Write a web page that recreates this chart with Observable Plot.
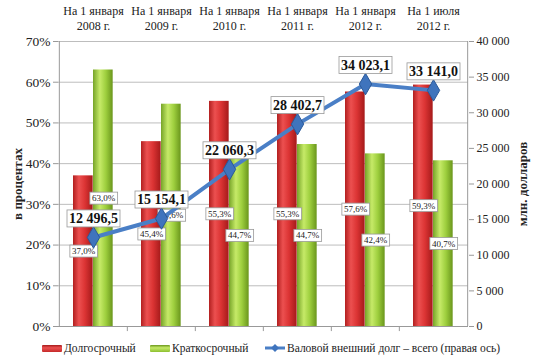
<!DOCTYPE html>
<html><head><meta charset="utf-8">
<script src="https://cdn.jsdelivr.net/npm/d3@7"></script>
<script src="https://cdn.jsdelivr.net/npm/@observablehq/plot@0.6"></script>
<style>
body{margin:0;background:#fff;font-family:"Liberation Serif",serif;}
#wrap{position:relative;width:535px;height:364px;}
#legend{position:absolute;left:0;top:338px;width:535px;height:24px;font-size:11.5px;color:#222;}
#legend .it{position:absolute;top:4px;display:flex;align-items:center;white-space:nowrap;}
.sw{display:inline-block;width:20px;height:7px;margin-right:2px;border-radius:1px;}
svg text{font-family:"Liberation Serif",serif;}
</style></head><body>
<div id="wrap"><div id="chart"></div><div id="legend"></div></div>
<script>
const categories = ["На 1 января\n2008 г.","На 1 января\n2009 г.","На 1 января\n2010 г.","На 1 января\n2011 г.","На 1 января\n2012 г.","На 1 июля\n2012 г."];
const longTerm = [37.0, 45.4, 55.3, 55.3, 57.6, 59.3];
const shortTerm = [63.0, 54.6, 44.7, 44.7, 42.4, 40.7];
const grossDebt = [12496.5, 15154.1, 22060.3, 28402.7, 34023.1, 33141.0];
const leftTicks = [0, 10, 20, 30, 40, 50, 60, 70];
const rightTicks = [0, 5000, 10000, 15000, 20000, 25000, 30000, 35000, 40000];
const seriesNames = ["Долгосрочный", "Краткосрочный", "Валовой внешний долг – всего (правая ось)"];

const LEFT_MAX = 70, RIGHT_MAX = 40000;
const toLeft = v => v * LEFT_MAX / RIGHT_MAX;
const loc = d3.formatLocale({decimal: ",", thousands: " ", grouping: [3], currency: ["", ""]});
const fmtDebt = loc.format(",.1f");
const fmtInt = loc.format(",d");
const fmtPct = loc.format(".1f");

const rows = categories.map((c, i) => ({cat: c, long: longTerm[i], short: shortTerm[i], debt: grossDebt[i]}));

const FONT = '"Liberation Serif", serif';
const W = 535, H = 338, mL = 58, mR = 67, mT = 41, mB = 12;
const bw = (W - mL - mR) / categories.length;

const chart = Plot.plot({
  width: W, height: H,
  marginLeft: mL, marginRight: mR, marginTop: mT, marginBottom: mB,
  style: {fontFamily: FONT, fontSize: "12px", color: "#222", background: "#fff"},
  x: {domain: categories, padding: 0, axis: null},
  y: {domain: [0, LEFT_MAX], axis: null},
  marks: [
    Plot.gridY(leftTicks, {stroke: "#bdbdbd", strokeOpacity: 1}),
    Plot.axisX({anchor: "top", tickSize: 0, tickPadding: 12, fontSize: 12, lineHeight: 1.2, label: null}),
    Plot.axisY(leftTicks, {anchor: "left", tickSize: 5, tickPadding: 3, tickFormat: d => d + "%", stroke: "#999", fontSize: 13.5,
      label: "в процентах", labelAnchor: "center", labelOffset: 46, labelArrow: false}),
    Plot.axisY(rightTicks.map(toLeft), {anchor: "right", tickSize: 5, tickPadding: 3, tickFormat: d => fmtInt(Math.round(d * RIGHT_MAX / LEFT_MAX)), stroke: "#999", fontSize: 12,
      label: "млн. долларов", labelAnchor: "center", labelOffset: 58, labelArrow: false}),
    Plot.ruleX([categories[0]], {dx: -bw / 2, stroke: "#999"}),
    Plot.ruleX([categories[categories.length - 1]], {dx: bw / 2, stroke: "#999"}),
    Plot.ruleX(categories.slice(1), {dx: -bw / 2, y1: 0, y2: -1.25, stroke: "#999"}),
    Plot.ruleY([0], {stroke: "#999"}),
    Plot.barY(rows, {x: "cat", y: "long", fill: "url(#gradRed)", insetLeft: 14, insetRight: bw - 34}),
    Plot.barY(rows, {x: "cat", y: "short", fill: "url(#gradGreen)", insetLeft: 34, insetRight: bw - 54}),
    Plot.text(rows, {x: "cat", y: d => d.long / 2, text: d => fmtPct(d.long) + "%", dx: -10, fontSize: 9, fill: "#222"}),
    Plot.text(rows, {x: "cat", y: d => d.short / 2, text: d => fmtPct(d.short) + "%", dx: 10, fontSize: 9, fill: "#222"}),
    Plot.line(rows, {x: "cat", y: d => toLeft(d.debt), stroke: "#4a7fc6", strokeWidth: 4}),
    Plot.dot(rows, {x: "cat", y: d => toLeft(d.debt), symbol: "diamond", r: 6.5, fill: "#3f74bd", stroke: "#2b5a9a", strokeWidth: 1}),
    Plot.text(rows, {x: "cat", y: d => toLeft(d.debt), text: d => fmtDebt(d.debt), dy: -19, fontSize: 14, fontWeight: "bold", fill: "#111"})
  ]
});

document.getElementById("chart").appendChild(chart);

const ns = "http://www.w3.org/2000/svg";
const defs = document.createElementNS(ns, "defs");
function grad(id, stops) {
  const g = document.createElementNS(ns, "linearGradient");
  g.setAttribute("id", id);
  g.setAttribute("x1", "0"); g.setAttribute("y1", "0");
  g.setAttribute("x2", "1"); g.setAttribute("y2", "0");
  stops.forEach(([o, c]) => {
    const s = document.createElementNS(ns, "stop");
    s.setAttribute("offset", o); s.setAttribute("stop-color", c);
    g.appendChild(s);
  });
  defs.appendChild(g);
}
grad("gradRed", [["0", "#b21f1f"], ["0.3", "#ec5050"], ["0.6", "#dc3434"], ["1", "#a51a1a"]]);
grad("gradGreen", [["0", "#76a428"], ["0.35", "#c6ea68"], ["0.65", "#9ecf3e"], ["1", "#6a961c"]]);
chart.insertBefore(defs, chart.firstChild);

chart.querySelectorAll('g[aria-label="y-axis label"] text').forEach(t => {
  t.setAttribute("font-weight", "bold"); t.setAttribute("font-size", "13");
});

chart.querySelectorAll('g[aria-label="text"]').forEach(g => {
  g.querySelectorAll("text").forEach(t => {
    const b = t.getBBox();
    const tr = t.getAttribute("transform");
    const r = document.createElementNS(ns, "rect");
    const p = 2;
    r.setAttribute("x", b.x - p); r.setAttribute("y", b.y - p + 1);
    r.setAttribute("width", b.width + 2 * p); r.setAttribute("height", b.height + 2 * p - 2);
    r.setAttribute("fill", "#fff"); r.setAttribute("stroke", "#999"); r.setAttribute("stroke-width", "0.8");
    if (tr) r.setAttribute("transform", tr);
    t.parentNode.insertBefore(r, t);
  });
});

const legend = document.getElementById("legend");
const items = [
  {left: 42, html: '<span class="sw" style="background:linear-gradient(#a51a1a,#ec5050 40%,#c42a2a)"></span>' + seriesNames[0]},
  {left: 150, html: '<span class="sw" style="background:linear-gradient(#6a961c,#c6ea68 40%,#8cbf30)"></span>' + seriesNames[1]},
  {left: 265, html: '<svg width="20" height="10" style="margin-right:2px"><line x1="0" y1="5" x2="20" y2="5" stroke="#4a7fc6" stroke-width="3"/><path d="M10,1 L14,5 L10,9 L6,5Z" fill="#3f74bd"/></svg>' + seriesNames[2]}
];
items.forEach(it => {
  const d = document.createElement("div");
  d.className = "it"; d.style.left = it.left + "px"; d.innerHTML = it.html;
  legend.appendChild(d);
});
</script>
</body></html>
